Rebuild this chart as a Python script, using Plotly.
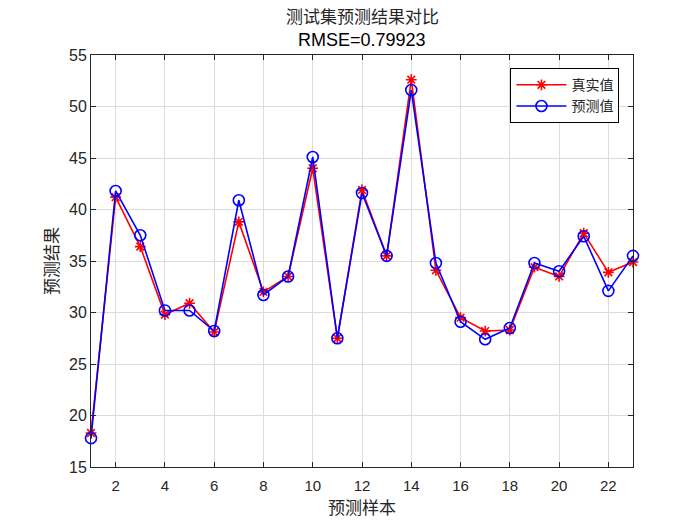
import plotly.graph_objects as go

samples = list(range(1, 24))
true_vals = [18.3, 41.2, 36.4, 29.8, 30.9, 28.1, 38.8, 32.0, 33.5, 44.0, 27.5, 41.9, 35.5, 52.6,
             34.1, 29.5, 28.2, 28.3, 34.4, 33.5, 37.7, 33.9, 34.9]
pred_vals = [17.8, 41.8, 37.5, 30.2, 30.2, 28.2, 40.9, 31.7, 33.5, 45.1, 27.5, 41.6, 35.5, 51.6,
             34.8, 29.1, 27.4, 28.5, 34.8, 34.0, 37.4, 32.1, 35.5]
x_ticks = list(range(2, 23, 2))
y_ticks = list(range(15, 56, 5))

cjk = "Noto Sans CJK SC"
latin = "Liberation Sans, Arial"

fig = go.Figure()
fig.add_trace(go.Scatter(
    x=samples, y=true_vals, mode="lines+markers", name="真实值", cliponaxis=False,
    line=dict(color="red", width=1.6),
    marker=dict(symbol="asterisk-open", size=9, color="red", line=dict(color="red", width=1.6)),
))
fig.add_trace(go.Scatter(
    x=samples, y=pred_vals, mode="lines+markers", name="预测值", cliponaxis=False,
    line=dict(color="blue", width=1.6),
    marker=dict(symbol="circle-open", size=11, color="blue", line=dict(color="blue", width=1.6)),
))

fig.update_layout(
    width=700, height=525,
    paper_bgcolor="white", plot_bgcolor="white",
    margin=dict(l=91, r=67, t=55, b=58),
    showlegend=True,
    legend=dict(
        x=0.975, y=0.968, xanchor="right", yanchor="top",
        bgcolor="white", bordercolor="black", borderwidth=1,
        font=dict(family=cjk, size=14, color="#262626"),
        tracegroupgap=0, itemwidth=50,
    ),
    annotations=[
        dict(text="测试集预测结果对比", x=0.5, xref="paper", y=1 + (55 - 15) / 412, yref="paper",
             yanchor="middle", showarrow=False, font=dict(family=cjk, size=17, color="#262626")),
        dict(text="RMSE=0.79923", x=0.5, xref="paper", y=1 + (55 - 40) / 412, yref="paper",
             yanchor="middle", showarrow=False, font=dict(family=latin, size=18, color="#000000")),
    ],
)

fig.update_xaxes(
    range=[1, 23], tickvals=x_ticks, ticks="inside", ticklen=5, tickcolor="#262626",
    showline=True, linecolor="#262626", linewidth=1, mirror="ticks",
    showgrid=True, gridcolor="#dcdcdc", gridwidth=1, zeroline=False,
    tickfont=dict(family=latin, size=15, color="#262626"), ticklabelstandoff=5,
    title=dict(text="预测样本", font=dict(family=cjk, size=17, color="#262626"), standoff=6),
)
fig.update_yaxes(
    range=[15, 55], tickvals=y_ticks, ticks="inside", ticklen=5, tickcolor="#262626",
    showline=True, linecolor="#262626", linewidth=1, mirror="ticks",
    showgrid=True, gridcolor="#dcdcdc", gridwidth=1, zeroline=False,
    tickfont=dict(family=latin, size=16, color="#262626"),
    title=dict(text="预测结果", font=dict(family=cjk, size=17, color="#262626"), standoff=6),
)

fig.write_html("out.html")
